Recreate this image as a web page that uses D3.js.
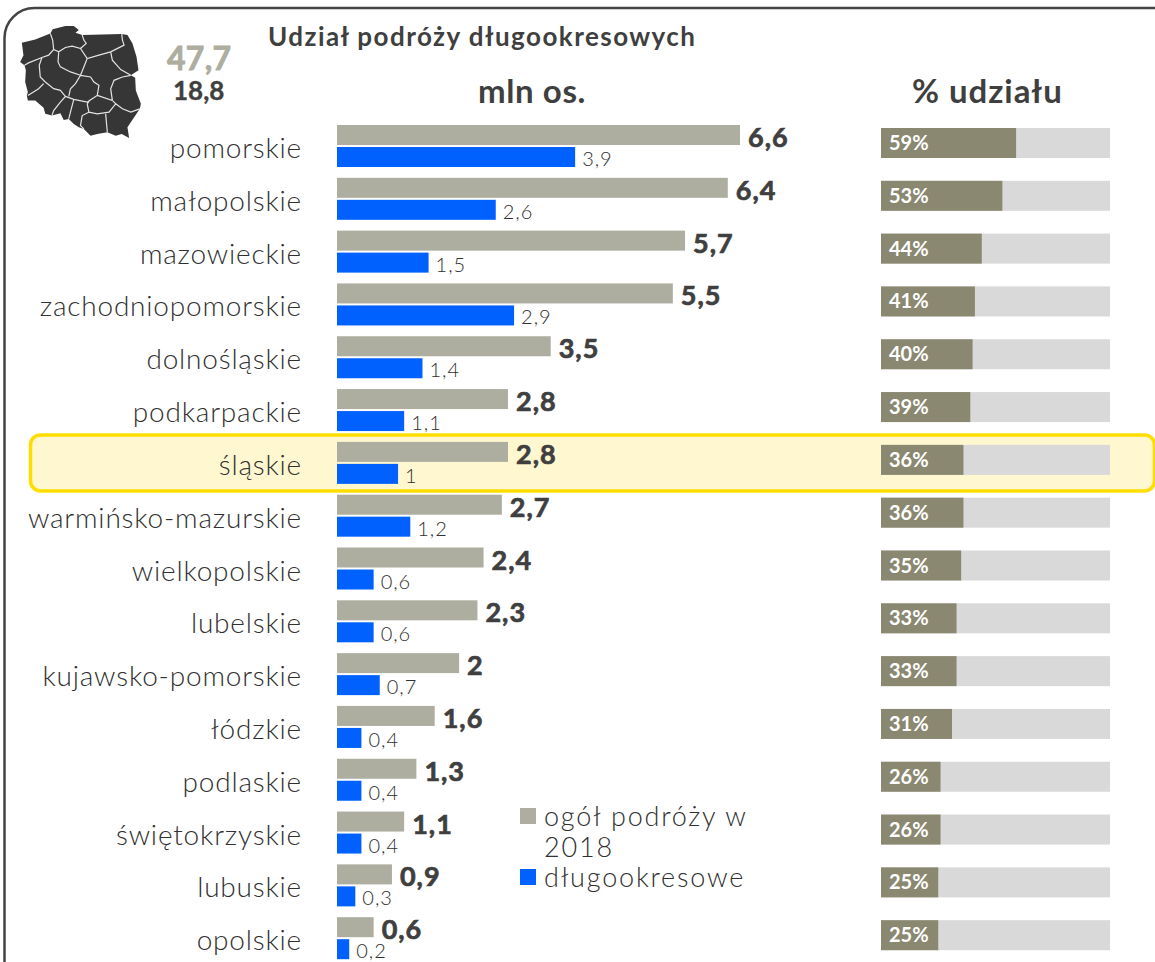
<!DOCTYPE html>
<html><head><meta charset="utf-8">
<script src="https://cdn.jsdelivr.net/npm/d3@7"></script>
<style>html,body{margin:0;padding:0;background:#fff}svg{display:block}text{font-family:Lato,"Open Sans",sans-serif;fill:#3f3f3f}</style>
</head><body><svg id="c" width="1155" height="962"></svg>
<script>
const regions=["pomorskie","małopolskie","mazowieckie","zachodniopomorskie","dolnośląskie","podkarpackie","śląskie","warmińsko-mazurskie","wielkopolskie","lubelskie","kujawsko-pomorskie","łódzkie","podlaskie","świętokrzyskie","lubuskie","opolskie"];
const totalTrips=[6.6,6.4,5.7,5.5,3.5,2.8,2.8,2.7,2.4,2.3,2,1.6,1.3,1.1,0.9,0.6];
const longTrips=[3.9,2.6,1.5,2.9,1.4,1.1,1,1.2,0.6,0.6,0.7,0.4,0.4,0.4,0.3,0.2];
const sharePct=[59,53,44,41,40,39,36,36,35,33,33,31,26,26,25,25];
const highlighted="śląskie";
const legendLabels=[["ogół podróży w","2018"],["długookresowe"]];
const titleText="Udział podróży długookresowych";
const totalSum="47,7", longSum="18,8";
const mapOutline=[[20,68],[60,58],[105,40],[112,28],[150,18],[175,18],[190,30],[180,38],[200,45],[260,43],[318,42],[335,45],[350,70],[362,110],[368,150],[345,165],[358,172],[360,210],[375,250],[372,265],[355,290],[335,320],[340,352],[318,340],[300,345],[275,335],[245,340],[225,345],[205,325],[190,320],[175,310],[160,295],[145,298],[135,278],[110,285],[90,280],[85,262],[60,240],[38,240],[35,225],[38,215],[30,185],[32,150],[28,135],[15,125],[25,105],[20,68]];
const mapBorders=[
[[105,40],[112,60],[115,88],[100,105],[80,112],[40,128],[28,135]],
[[200,45],[205,60],[212,70],[195,85]],
[[115,88],[130,95],[150,82],[170,78],[195,85],[215,115],[250,105],[285,95],[325,75],[320,60],[318,42]],
[[285,95],[290,120],[315,148],[345,165]],
[[130,95],[128,125],[135,140],[165,155],[195,165]],
[[215,115],[205,140],[195,165],[180,190],[165,205],[160,228]],
[[80,112],[72,135],[75,170],[90,185],[115,205],[135,210],[150,228],[135,245],[115,270],[110,285]],
[[38,225],[70,205],[85,190]],
[[150,228],[175,237],[215,245],[222,240]],
[[175,237],[165,275],[160,295]],
[[215,250],[220,275],[200,285],[195,315],[205,325]],
[[195,165],[225,170],[235,185],[250,195],[245,225],[222,240],[215,250]],
[[245,225],[290,240],[300,250],[280,275],[245,280],[220,275]],
[[270,280],[275,335]],
[[290,240],[285,205],[295,180],[320,170],[345,165]],
[[300,250],[320,265],[345,275],[372,265]]
];
const svg=d3.select("#c");
const x=d3.scaleLinear().domain([0,6.6]).range([337,740]);
const p=d3.scaleLinear().domain([0,100]).range([881,1110]);
const y=d3.scaleBand().domain(regions).range([125,970]).paddingInner(0).paddingOuter(0);
const fmt=v=>String(v).replace(".",",");
const LS=.8;
svg.append("rect").attr("x",4.5).attr("y",8).attr("width",1180).attr("height",990).attr("rx",30).attr("fill","#fff").attr("stroke","#444").attr("stroke-width",2.5);
const hy=y(highlighted);
svg.append("rect").attr("x",30.5).attr("y",hy-7).attr("width",1124).attr("height",56).attr("rx",10).attr("fill","#FFF7CF").attr("stroke","#FFDD00").attr("stroke-width",3.5);
const mp=d3.geoPath(d3.geoIdentity().fitExtent([[20,26],[141,138]],{type:"Polygon",coordinates:[mapOutline]}));
svg.append("path").attr("d",mp({type:"Polygon",coordinates:[mapOutline]})).attr("fill","#363636");
svg.append("path").attr("d",mp({type:"MultiLineString",coordinates:mapBorders})).attr("fill","none").attr("stroke","#e4e4e4").attr("stroke-width",1.2);
const T=(s,xx,yy,size,weight,anchor,fill,ls)=>svg.append("text").text(s).attr("x",xx).attr("y",yy).attr("font-size",size).attr("font-weight",weight).attr("text-anchor",anchor||"start").style("fill",fill||"#3f3f3f").style("letter-spacing",(ls??LS)+"px");
T(titleText,268,46,26,700,"start","#3f3f3f",1.45);
T("mln os.",478,103,33,700,"start","#3f3f3f",.6);
T("% udziału",912,103,33,700,"start","#3f3f3f",.95);
T(totalSum,167,70,32,700,"start","#ADADA0",.3).style("stroke","#ADADA0").style("stroke-width",.8);
T(longSum,173,100,26,700,"start","#3f3f3f",0).style("stroke","#3f3f3f").style("stroke-width",.4);
const g=svg.selectAll("g.row").data(regions).join("g").attr("class","row");
g.append("text").text(d=>d).attr("x",302).attr("y",d=>y(d)+33).attr("text-anchor","end").attr("font-size",28).attr("font-weight",300).style("letter-spacing",LS+"px").style("fill","#303030");
g.append("rect").attr("x",x(0)).attr("y",d=>y(d)).attr("height",20).attr("width",(d,i)=>x(totalTrips[i])-x(0)).attr("fill","#ADADA0");
g.append("rect").attr("x",x(0)).attr("y",d=>y(d)+22).attr("height",20).attr("width",(d,i)=>x(longTrips[i])-x(0)).attr("fill","#0061FF");
g.append("text").text((d,i)=>fmt(totalTrips[i])).attr("x",(d,i)=>x(totalTrips[i])+8).attr("y",d=>y(d)+22).attr("font-size",27).attr("font-weight",700).style("letter-spacing","1px").style("stroke","#3f3f3f").style("stroke-width",.7);
g.append("text").text((d,i)=>fmt(longTrips[i])).attr("x",(d,i)=>x(longTrips[i])+7).attr("y",d=>y(d)+41).attr("font-size",20).attr("font-weight",300).style("letter-spacing","1px").style("fill","#303030");
g.append("rect").attr("x",p(0)).attr("y",d=>y(d)+3).attr("height",30).attr("width",p(100)-p(0)).attr("fill","#D9D9D9");
g.append("rect").attr("x",p(0)).attr("y",d=>y(d)+3).attr("height",30).attr("width",(d,i)=>p(sharePct[i])-p(0)).attr("fill","#8A8870");
g.append("text").text((d,i)=>sharePct[i]+"%").attr("x",p(0)+8).attr("y",d=>y(d)+25).attr("font-size",20).attr("font-weight",700).style("fill","#fff");
const lg=[{c:"#ADADA0",sy:808,lines:[[legendLabels[0][0],826],[legendLabels[0][1],857]]},{c:"#0061FF",sy:869,lines:[[legendLabels[1][0],887]]}];
lg.forEach(l=>{svg.append("rect").attr("x",520).attr("y",l.sy).attr("width",16).attr("height",16).attr("fill",l.c);
 l.lines.forEach(a=>T(a[0],544,a[1],27,300,"start","#303030",1.8));});
</script></body></html>
